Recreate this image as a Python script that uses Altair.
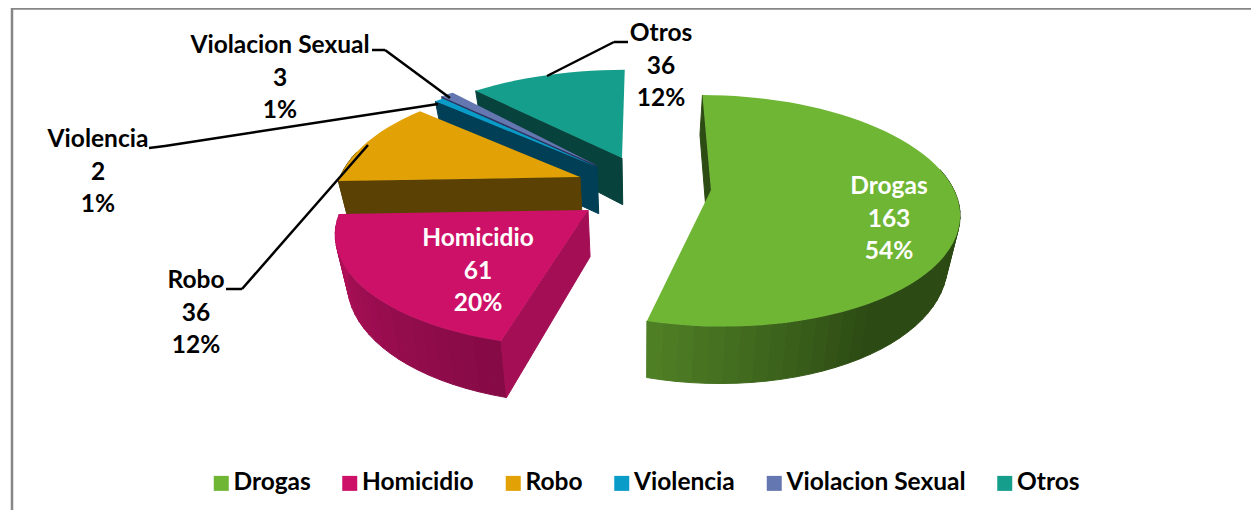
import math
import altair as alt

names = ["Drogas", "Homicidio", "Robo", "Violencia", "Violacion Sexual", "Otros"]
values = [163, 61, 36, 2, 3, 36]
colors = ["#6FB635", "#CE1168", "#E2A206", "#0A9CC8", "#6577B1", "#159E8B"]
cut_colors = ["#2D4C14", "#A30E55", "#5B4104", "#003F55", "#2B3560", "#07423C"]
rim_near = ["#4F7F25", "#850A45", "#5B4104", "#003F55", "#2B3560", "#07423C"]
rim_far = ["#2C4A13", "#B5115C", "#6A4C05", "#004A64", "#36436F", "#07423C"]
label_colors = ["white", "white", "black", "black", "black", "black"]

# layout of the exploded, tilted pie (pixels on the page)
apex = [(711, 190), (588, 210), (580, 177), (597, 167), (596, 165), (622, 158)]
vanish = [655, 635, 600, 640, 640, 640]
radius = [243, 247, 240, 246, 246, 246]
squash = [112, 112, 112, 112, 112, 104]
label_pos = [(889, 187), (478, 239), (196, 281), (98, 140), (280, 46), (661, 34)]
label_rows = [0, 33, 65]
leaders = [
    (628, 42, 614, 42), (614, 42, 547, 76),
    (372, 50, 385, 50), (385, 50, 450, 98),
    (149, 148, 165, 146), (165, 146, 438, 104),
    (226, 289, 242, 289), (242, 289, 368, 145),
]
frame = [(12, 8.5, 1259, 8.5), (12, 8, 12, 518)]
VX, K, DEPTH, SHRINK = 640, 0.18, 46.7, 0.96
FONT, FSIZE = "Lato", 24.5
OX, OY = 8, 8

total = sum(values)


def rim(i, deg):
    a = math.radians(deg)
    x, y = math.sin(a), math.cos(a)
    s = 1 / (1 + K * y)
    ax, ay = apex[i]
    vx = vanish[i]
    return vx + (ax - vx + radius[i] * x) * s, ay - squash[i] * y * s, s


def low(p, s=1.0):
    return VX + (p[0] - VX) * SHRINK, p[1] + DEPTH * s


def poly(pts):
    ring = [[round(p[0] - OX, 2), round(p[1] - OY, 2)] for p in pts]
    return {"type": "Polygon", "coordinates": [ring + [ring[0]]]}


def mix(c1, c2, t):
    a = [int(c1[j:j + 2], 16) for j in (1, 3, 5)]
    b = [int(c2[j:j + 2], 16) for j in (1, 3, 5)]
    return "#%02x%02x%02x" % tuple(round(u + (v - u) * t) for u, v in zip(a, b))


PROJ = dict(type="identity", scale=1, translate=[0, 0])
layers = []
start = 0.0
slices = []
for i, v in enumerate(values):
    sweep = v / total * 360
    slices.append((i, start, start + sweep))
    start += sweep

# painted from the back of the pie to the front
for i, a0, a1 in [slices[k] for k in (5, 4, 3, 2, 1, 0)]:
    n = max(4, int((a1 - a0) / 3))
    angles = [a0 + (a1 - a0) * k / n for k in range(n + 1)]
    walls = []
    for k in range(n):
        if math.cos(math.radians(angles[k])) > 0.2:
            continue  # the rim at the back of the pie faces away
        # the Drogas rim is shaded only on its front part, read from its end angle
        kk = n - 1 - k if i == 0 else k
        p, q = rim(i, angles[k]), rim(i, angles[k + 1])
        t = min(1.0, kk / n * (4.3 if i == 0 else 1.0))
        walls.append({
            "type": "Feature",
            "properties": {"fill": mix(rim_near[i], rim_far[i], t)},
            "geometry": poly([p, q, low(q, q[2]), low(p, p[2])]),
        })
    p = rim(i, a0)
    c = apex[i]
    walls.append({
        "type": "Feature",
        "properties": {"fill": cut_colors[i]},
        "geometry": poly([c, p, low(p, p[2]), low(c)]),
    })
    layers.append(
        alt.Chart(alt.Data(values=walls)).mark_geoshape(strokeWidth=1).encode(
            fill=alt.Fill("properties.fill:N", scale=None),
            stroke=alt.Stroke("properties.fill:N", scale=None),
        ).project(**PROJ)
    )
    top = [{
        "type": "Feature",
        "properties": {"name": names[i]},
        "geometry": poly([c] + [rim(i, a) for a in angles]),
    }]
    layers.append(
        alt.Chart(alt.Data(values=top)).mark_geoshape(strokeWidth=0).encode(
            color=alt.Color(
                "properties.name:N",
                scale=alt.Scale(domain=names, range=colors),
                legend=alt.Legend(
                    title=None, orient="none", legendX=201, legendY=463,
                    direction="horizontal", symbolType="square", symbolSize=225,
                    symbolStrokeWidth=0, labelFont=FONT, labelFontWeight="bold",
                    labelFontSize=FSIZE, labelColor="black", columnPadding=26.5,
                    labelOffset=0, labelLimit=300,
                ),
            ),
        ).project(**PROJ)
    )

rows = []
for i, (x, y) in enumerate(label_pos):
    pct = f"{round(values[i] / total * 100)}%"
    for dy, txt in zip(label_rows, [names[i], str(values[i]), pct]):
        rows.append({"x": x - OX, "y": y + dy - OY, "t": txt, "c": label_colors[i]})
text = alt.Chart(alt.Data(values=rows)).mark_text(
    font=FONT, fontWeight="bold", fontSize=FSIZE, align="center", baseline="middle"
).encode(
    x=alt.X("x:Q", scale=None, axis=None),
    y=alt.Y("y:Q", scale=None, axis=None),
    text="t:N",
    fill=alt.Fill("c:N", scale=None),
)


def segs(lst):
    return [{"x": a - OX, "y": b - OY, "x2": c - OX, "y2": d - OY} for a, b, c, d in lst]


def rules(lst, color, w):
    return alt.Chart(alt.Data(values=segs(lst))).mark_rule(color=color, strokeWidth=w).encode(
        x=alt.X("x:Q", scale=None, axis=None),
        y=alt.Y("y:Q", scale=None, axis=None),
        x2="x2:Q",
        y2="y2:Q",
    )


chart = alt.layer(
    rules(frame, "#868686", 2.5), *layers, rules(leaders, "black", 2.5), text
).resolve_scale(fill="independent", stroke="independent").properties(
    width=1243, height=502, padding=0, autosize=alt.AutoSizeParams(type="none")
).configure_view(stroke=None)

chart.save("out.html", embed_options={"renderer": "svg", "actions": False})
